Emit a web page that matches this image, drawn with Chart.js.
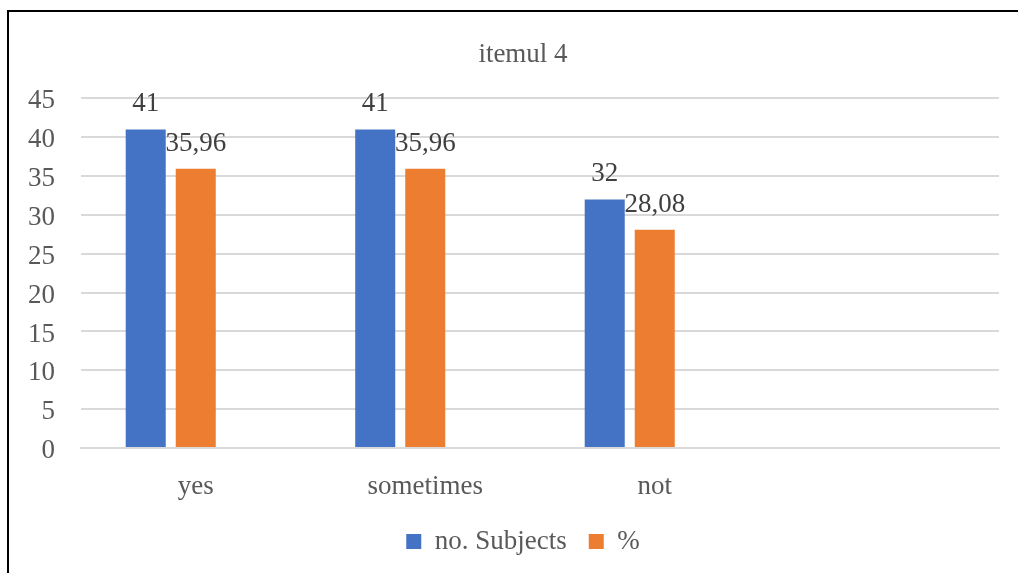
<!DOCTYPE html>
<html>
<head>
<meta charset="utf-8">
<script src="https://cdn.jsdelivr.net/npm/chart.js@4/dist/chart.umd.min.js"></script>
<style>
  html, body { margin: 0; padding: 0; background: #fff; }
  #frame {
    position: absolute; left: 7px; top: 10px;
    width: 1011px; height: 563px;
    border-top: 2px solid #000; border-left: 2px solid #000;
  }
</style>
</head>
<body>
<div id="frame"><canvas id="myChart1" width="1009" height="561"></canvas></div>
<script>
  // Chart data
  const categories = ['yes', 'sometimes', 'not', ''];
  const subjects = [41, 41, 32];
  const percent = [35.96, 35.96, 28.08];

  const textFont = 'Liberation Serif, Times New Roman, serif';
  const grey = '#595959';

  // draws the value above each bar (decimal comma)
  const valueLabels = {
    id: 'valueLabels',
    afterDatasetsDraw(chart) {
      const ctx = chart.ctx;
      ctx.save();
      ctx.font = '27px ' + textFont;
      ctx.fillStyle = '#404040';
      ctx.textAlign = 'center';
      ctx.textBaseline = 'alphabetic';
      [0, 1].forEach(i => {
        const meta = chart.getDatasetMeta(i);
        meta.data.forEach((bar, j) => {
          const v = chart.data.datasets[i].data[j];
          ctx.fillText(String(v).replace('.', ','), bar.x, bar.y - 18);
        });
      });
      ctx.restore();
    }
  };

  // centre title and legend a bit right of the canvas middle
  const shiftBoxes = {
    id: 'shiftBoxes',
    afterLayout(chart) {
      [chart.titleBlock, chart.legend].forEach(box => {
        if (box) { box.left += 19; box.right += 19; }
      });
    }
  };

  const config1 = {
    type: 'bar',
    data: {
      labels: categories,
      datasets: [
        { label: 'no. Subjects', data: subjects, backgroundColor: '#4472C4' },
        { label: '%', data: percent, backgroundColor: '#ED7D31' },
        { label: '', data: [], backgroundColor: 'transparent' }
      ]
    },
    options: {
      responsive: false,
      animation: false,
      categoryPercentage: 0.654,
      barPercentage: 0.8,
      layout: { padding: { left: 0, right: 19, top: 0, bottom: 8 } },
      plugins: {
        title: {
          display: true,
          text: 'itemul 4',
          color: grey,
          font: { family: textFont, size: 27, weight: 'normal', lineHeight: 1.2 },
          padding: { top: 27, bottom: 27 }
        },
        legend: {
          position: 'bottom',
          labels: {
            filter: item => item.text !== '',
            color: grey,
            font: { family: textFont, size: 27 },
            boxWidth: 15,
            boxHeight: 15,
            padding: 22
          }
        },
        tooltip: { enabled: false }
      },
      scales: {
        x: {
          grid: { display: false },
          border: { color: '#D9D9D9', width: 2 },
          ticks: { color: grey, font: { family: textFont, size: 27 }, padding: 15, maxRotation: 0 },
          afterFit(axis) { axis.height = 58; }
        },
        y: {
          min: 0,
          max: 45,
          grid: { color: '#D9D9D9', lineWidth: 2, drawTicks: false },
          border: { display: false },
          ticks: { stepSize: 5, color: grey, font: { family: textFont, size: 27 }, padding: 26, labelOffset: 3 },
          afterFit(axis) { axis.width = 72; }
        }
      }
    },
    plugins: [valueLabels, shiftBoxes]
  };

  const ctx = document.getElementById('myChart1').getContext('2d');
  const myChart1 = new Chart(ctx, config1);
</script>
</body>
</html>
